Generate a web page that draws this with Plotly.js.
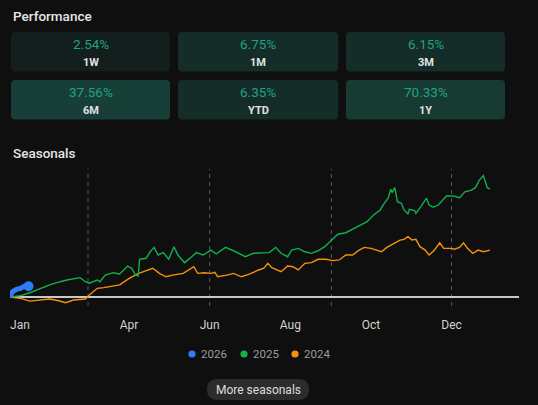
<!DOCTYPE html>
<html>
<head>
<meta charset="utf-8">
<script src="https://cdn.plot.ly/plotly-3.0.1.min.js"></script>
<style>
  html, body { margin: 0; padding: 0; background: #0f0f0f; }
  #chart { width: 538px; height: 405px; }
</style>
</head>
<body>
<div id="chart"></div>
<script>
// Performance cards
const perfLabels = ['1W', '1M', '3M', '6M', 'YTD', '1Y'];
const perfValues = [2.54, 6.75, 6.15, 37.56, 6.35, 70.33];
const perfFills  = ['#121f1c', '#152d29', '#152d29', '#173f37', '#152d29', '#173a33'];

// Seasonal series: day of year (0 = Jan 1) and % change since Jan 1
const seriesNames  = ['2026', '2025', '2024'];
const seriesColors = ['#2e7cf6', '#10b04c', '#f2920f'];

const days2026 = [0, 2, 5, 8, 10, 13, 14];
const vals2026 = [0, 3.1, 4.5, 5.1, 6.0, 6.8, 6.35];

const days2025 = [0, 8, 15, 23, 30, 38, 43, 53, 57, 60, 66, 68, 72, 78, 83, 89, 92, 95, 97, 98,
  103, 106, 109, 112, 116, 120, 124, 127, 132, 137, 141, 146, 152, 156, 163, 169, 178, 184, 192, 196,
  201, 205, 210, 213, 218, 223, 228, 233, 238, 244, 248, 254, 259, 264, 270, 275, 280, 283, 286, 288,
  289, 291, 293, 296, 298, 301, 302, 306, 307, 311, 315, 317, 320, 324, 326, 330, 335, 340, 344, 349,
  352, 355, 358, 361, 363];
const vals2025 = [0, 0.8, 2.5, 5.1, 7.1, 9.0, 10.0, 11.4, 9.0, 8.1, 10.0, 9.0, 12.9, 14.3, 13.5, 18.2, 16.9, 12.9, 12.4, 22.2,
  22.8, 26.6, 29.2, 24.7, 26.1, 22.2, 29.6, 24.7, 20.2, 23.4, 26.1, 24.7, 27.6, 25.3, 29.2, 27.2, 23.7, 25.7, 25.7, 26.1,
  29.2, 25.7, 23.7, 27.6, 28.6, 26.6, 25.7, 27.2, 29.6, 33.9, 36.9, 37.8, 39.8, 41.8, 44.3, 48.2, 51.2, 55.1, 58.1, 63.4,
  61.4, 64.3, 56.1, 55.1, 51.2, 48.8, 51.6, 50.8, 49.2, 53.5, 58.1, 54.1, 52.8, 54.1, 56.1, 59.4, 59.4, 58.4, 61.9, 62.9,
  64.3, 68.8, 71.4, 64.3, 63.4];

const days2024 = [0, 8, 15, 23, 30, 37, 42, 48, 57, 60, 66, 71, 77, 83, 89, 96, 101, 108, 113, 118,
  123, 131, 139, 142, 147, 152, 155, 157, 164, 169, 175, 181, 188, 192, 195, 198, 205, 210, 214, 218,
  223, 228, 233, 239, 244, 249, 254, 259, 264, 268, 273, 281, 285, 290, 295, 298, 301, 304, 307, 310,
  314, 317, 321, 325, 328, 333, 336, 340, 343, 346, 350, 354, 358, 363];
const vals2024 = [0, -0.8, -2.4, -1.8, -1.2, -2.2, -3.4, -1.8, -1.2, 1.2, 5.1, 5.5, 6.1, 7.1, 10.4, 13.5, 14.9, 16.9, 13.9, 11.9,
  12.9, 13.9, 17.8, 13.9, 14.3, 13.9, 14.5, 11.9, 12.9, 13.9, 11.9, 13.4, 15.9, 16.9, 19.8, 17.2, 14.9, 18.2, 17.8, 15.9,
  19.8, 20.2, 22.2, 22.2, 21.4, 21.8, 24.7, 24.7, 27.6, 29.2, 28.6, 26.6, 29.2, 31.6, 33.5, 33.9, 35.5, 33.5, 33.9, 29.6,
  27.6, 24.7, 27.6, 31.9, 28.6, 28.6, 28.1, 29.2, 31.9, 28.6, 25.7, 27.6, 26.6, 27.6];

// Axis labels and season boundaries (day of year)
const monthLabels = ['Jan', 'Apr', 'Jun', 'Aug', 'Oct', 'Dec'];
const monthStartDays = [0, 90, 151, 212, 273, 334];
const seasonStartDays = [59, 151, 243, 334];

// ---- page geometry (pixels) ----
const W = 538, H = 405;
const PL = 10, PR = 519, PT = 169, PB = 306;
const px = p => (p - PL) / (PR - PL);
const py = p => (PB - p) / (PB - PT);

function roundRect(x0, y0, x1, y1, r) {
  const P = (x, y) => px(x).toFixed(5) + ',' + py(y).toFixed(5);
  return 'M' + P(x0 + r, y0) + ' L' + P(x1 - r, y0) + ' Q' + P(x1, y0) + ' ' + P(x1, y0 + r) +
    ' L' + P(x1, y1 - r) + ' Q' + P(x1, y1) + ' ' + P(x1 - r, y1) +
    ' L' + P(x0 + r, y1) + ' Q' + P(x0, y1) + ' ' + P(x0, y1 - r) +
    ' L' + P(x0, y0 + r) + ' Q' + P(x0, y0) + ' ' + P(x0 + r, y0) + ' Z';
}

const FONT = 'Roboto, "Open Sans", sans-serif';
const shapes = [];
const annotations = [];

// titles
annotations.push({ text: 'Performance', xref: 'paper', yref: 'paper', x: px(11), y: py(15.5),
  xanchor: 'left', yanchor: 'middle', showarrow: false,
  font: { family: FONT, size: 13.5, color: '#e6e6e6', weight: 500 } });
annotations.push({ text: 'Seasonals', xref: 'paper', yref: 'paper', x: px(11), y: py(152.5),
  xanchor: 'left', yanchor: 'middle', showarrow: false,
  font: { family: FONT, size: 13.5, color: '#e6e6e6', weight: 500 } });

// performance cards, 3 per row
const cardCols = [[11, 170], [178, 338], [346, 505]];
const cardRows = [[32, 71.5], [80, 119.5]];
perfLabels.forEach((lab, i) => {
  const c = cardCols[i % 3], r = cardRows[Math.floor(i / 3)];
  shapes.push({ type: 'path', xref: 'paper', yref: 'paper', layer: 'below',
    path: roundRect(c[0], r[0], c[1], r[1], 4), fillcolor: perfFills[i], line: { width: 0 } });
  const cx = (c[0] + c[1]) / 2;
  annotations.push({ text: perfValues[i].toFixed(2) + '%', xref: 'paper', yref: 'paper',
    x: px(cx), y: py(r[0] + 12), xanchor: 'center', yanchor: 'middle', showarrow: false,
    font: { family: FONT, size: 13.5, color: '#1ea387' } });
  annotations.push({ text: lab, xref: 'paper', yref: 'paper',
    x: px(cx), y: py(r[0] + 30), xanchor: 'center', yanchor: 'middle', showarrow: false,
    font: { family: FONT, size: 11, color: '#e2e2e2', weight: 'bold' } });
});

// season boundary markers
seasonStartDays.forEach(d => shapes.push({ type: 'line', xref: 'x', yref: 'paper',
  x0: d, x1: d, y0: 0, y1: 1, layer: 'below', line: { color: '#5a5a5a', width: 1, dash: '4px,4px' } }));

// legend
const legendX = [192, 244, 295];
seriesNames.forEach((n, i) => {
  const cx = legendX[i], cy = 354, rr = 3.6;
  shapes.push({ type: 'circle', xref: 'paper', yref: 'paper', x0: px(cx - rr), x1: px(cx + rr),
    y0: py(cy + rr), y1: py(cy - rr), fillcolor: seriesColors[i], line: { width: 0 } });
  annotations.push({ text: n, xref: 'paper', yref: 'paper', x: px(cx + 7), y: py(cy),
    xanchor: 'left', yanchor: 'middle', showarrow: false,
    font: { family: FONT, size: 11.5, color: '#9c9c9c' } });
});

// "More seasonals" button
shapes.push({ type: 'path', xref: 'paper', yref: 'paper', path: roundRect(207, 379, 309, 400, 10.5),
  fillcolor: '#2c2c2c', line: { width: 0 } });
annotations.push({ text: 'More seasonals', xref: 'paper', yref: 'paper', x: px(258), y: py(389.5),
  xanchor: 'center', yanchor: 'middle', showarrow: false,
  font: { family: FONT, size: 12, color: '#dedede' } });

const last2026 = days2026.length - 1;
const traces = [
  { x: days2024, y: vals2024, name: seriesNames[2], mode: 'lines',
    line: { color: seriesColors[2], width: 1.4 }, hoverinfo: 'skip' },
  { x: days2025, y: vals2025, name: seriesNames[1], mode: 'lines',
    line: { color: seriesColors[1], width: 1.4 }, hoverinfo: 'skip' },
  { x: days2026, y: vals2026, name: seriesNames[0], mode: 'lines',
    line: { color: seriesColors[0], width: 5, shape: 'spline' }, hoverinfo: 'skip' },
  // current-day dot on the 2026 line
  { x: [days2026[last2026]], y: [vals2026[last2026]], name: seriesNames[0], mode: 'markers',
    marker: { color: seriesColors[0], size: 10, line: { width: 0 } }, hoverinfo: 'skip', cliponaxis: false }
];

// the first label sits just inside the left edge of the plot
const tickPos = monthStartDays.map((d, i) => i === 0 ? d + 7.5 : d);

const layout = {
  width: W, height: H,
  paper_bgcolor: '#0f0f0f', plot_bgcolor: '#0f0f0f',
  margin: { l: PL, r: W - PR, t: PT, b: H - PB, pad: 0 },
  showlegend: false,
  xaxis: { range: [0, (PR - PL) * 0.7563], showgrid: false, zeroline: false, showline: false,
    ticks: '', tickvals: tickPos, ticktext: monthLabels, ticklabelstandoff: 10,
    tickfont: { family: FONT, size: 12, color: '#d2d2d2' }, fixedrange: true },
  yaxis: { range: [(297 - PB) / 1.7, (297 - PT) / 1.7], showgrid: false, showticklabels: false,
    ticks: '', zeroline: true, zerolinecolor: '#c8c8c8', zerolinewidth: 1.5, showline: false, fixedrange: true },
  shapes: shapes,
  annotations: annotations
};

Plotly.newPlot('chart', traces, layout, { displayModeBar: false, staticPlot: true });
</script>
</body>
</html>
